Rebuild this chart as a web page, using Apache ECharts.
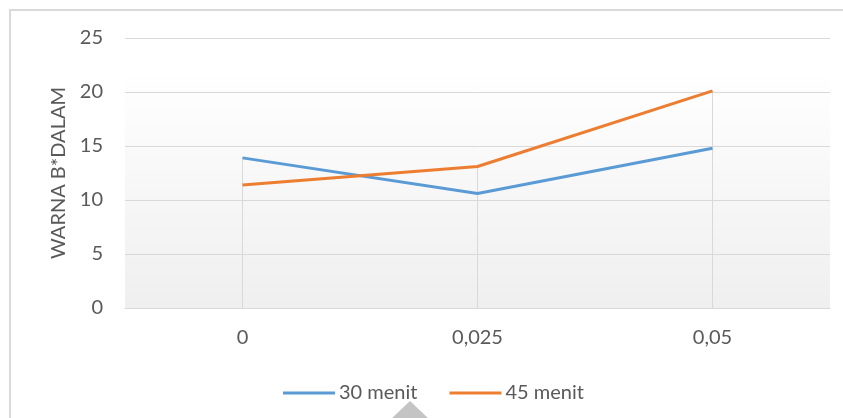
<!DOCTYPE html>
<html>
<head>
<meta charset="utf-8">
<script src="https://cdn.jsdelivr.net/npm/echarts@6/dist/echarts.min.js"></script>
<style>
  html, body { margin: 0; padding: 0; background: #fff; }
  #chart { width: 843px; height: 418px; }
</style>
</head>
<body>
<div id="chart"></div>
<script>
// Konsentrasi (kategori sumbu X)
const categories = ['0', '0,025', '0,05'];
// Nilai warna b* dalam untuk tiap lama waktu
const menit30 = [13.9, 10.6, 14.8];
const menit45 = [11.4, 13.1, 20.1];
const seriesNames = ['30 menit', '45 menit'];
const yTitle = 'WARNA B*DALAM';

const FONT = 'Lato';
const TEXT = '#595959';
const GRID = '#d9d9d9';

// Garis tegak dari sumbu sampai titik tertinggi pada tiap kategori
const dropTops = categories.map((c, i) => [i, Math.max(menit30[i], menit45[i])]);

const chart = echarts.init(document.getElementById('chart'), null, { renderer: 'canvas' });

chart.setOption({
  animation: false,
  backgroundColor: '#ffffff',
  textStyle: { fontFamily: FONT },
  graphic: [
    {
      type: 'rect',
      shape: { x: 10, y: 10, width: 850, height: 430 },
      style: { fill: 'none', stroke: '#d9d9d9', lineWidth: 2 },
      silent: true
    },
    {
      type: 'polygon',
      shape: { points: [[410, 401], [391, 419], [429, 419]] },
      style: { fill: '#c4c4c4' },
      silent: true,
      z: 100
    }
  ],
  grid: {
    left: 125, right: 13, top: 38, bottom: 110,
    show: true,
    borderWidth: 0,
    backgroundColor: new echarts.graphic.LinearGradient(0, 0, 0, 1, [
      { offset: 0, color: '#ffffff' },
      { offset: 0.12, color: '#ffffff' },
      { offset: 1, color: '#efefef' }
    ])
  },
  legend: {
    data: seriesNames,
    left: 278, top: 378,
    itemWidth: 52, itemHeight: 3, itemGap: 32,
    icon: 'rect',
    textStyle: { color: TEXT, fontSize: 20, fontFamily: FONT, padding: [0, 0, 0, -1] }
  },
  xAxis: {
    type: 'category',
    data: categories,
    boundaryGap: true,
    axisLine: { show: true, lineStyle: { color: GRID, width: 1 } },
    axisTick: { show: false },
    axisLabel: { color: TEXT, fontSize: 20, fontFamily: FONT, margin: 20 },
    splitLine: { show: false }
  },
  yAxis: {
    type: 'value',
    min: 0, max: 25, interval: 5,
    name: yTitle,
    nameLocation: 'middle',
    nameGap: 52,
    nameRotate: 90,
    nameTextStyle: { color: TEXT, fontSize: 20, fontFamily: FONT },
    axisLine: { show: false },
    axisTick: { show: false },
    axisLabel: { color: TEXT, fontSize: 20, fontFamily: FONT, margin: 22 },
    splitLine: { show: true, lineStyle: { color: GRID, width: 1 } }
  },
  series: [
    {
      name: 'drop',
      type: 'custom',
      data: dropTops,
      silent: true,
      z: 1,
      renderItem: function (params, api) {
        const bottom = api.coord([api.value(0), 0]);
        const top = api.coord([api.value(0), api.value(1)]);
        return {
          type: 'line',
          shape: { x1: bottom[0], y1: bottom[1], x2: top[0], y2: top[1] },
          style: { stroke: GRID, lineWidth: 1 }
        };
      }
    },
    {
      name: seriesNames[0],
      type: 'line',
      data: menit30,
      z: 3,
      showSymbol: false,
      symbol: 'none',
      lineStyle: { color: '#5b9bd5', width: 3 },
      itemStyle: { color: '#5b9bd5' }
    },
    {
      name: seriesNames[1],
      type: 'line',
      data: menit45,
      z: 3,
      showSymbol: false,
      symbol: 'none',
      lineStyle: { color: '#ed7d31', width: 3 },
      itemStyle: { color: '#ed7d31' }
    }
  ]
});
</script>
</body>
</html>
